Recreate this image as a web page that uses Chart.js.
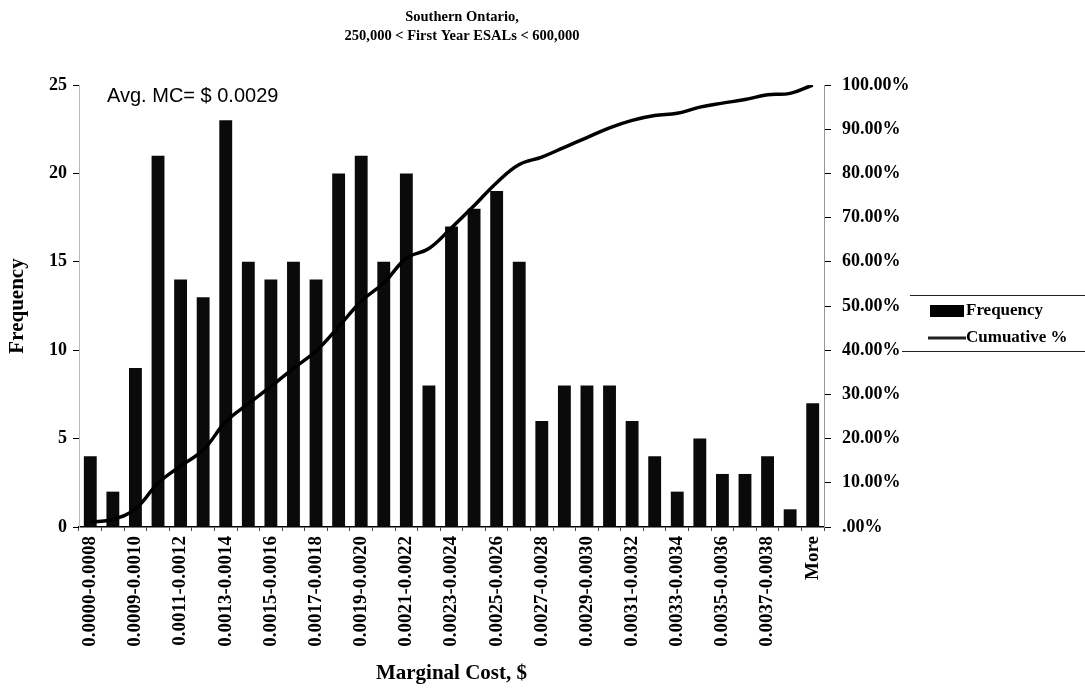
<!DOCTYPE html>
<html>
<head>
<meta charset="utf-8">
<script src="https://cdn.jsdelivr.net/npm/chart.js@4.4.0/dist/chart.umd.min.js"></script>
<style>
  html, body { margin: 0; padding: 0; background: #fff; }
  canvas { display: block; }
</style>
</head>
<body>
<canvas id="mcChart" width="1085" height="689"></canvas>
<script>
// bins (Excel histogram), only every other label is printed on the axis
var bins = [
    '0.0000-0.0008', '0.0008-0.0009', '0.0009-0.0010', '0.0010-0.0011',
    '0.0011-0.0012', '0.0012-0.0013', '0.0013-0.0014', '0.0014-0.0015',
    '0.0015-0.0016', '0.0016-0.0017', '0.0017-0.0018', '0.0018-0.0019',
    '0.0019-0.0020', '0.0020-0.0021', '0.0021-0.0022', '0.0022-0.0023',
    '0.0023-0.0024', '0.0024-0.0025', '0.0025-0.0026', '0.0026-0.0027',
    '0.0027-0.0028', '0.0028-0.0029', '0.0029-0.0030', '0.0030-0.0031',
    '0.0031-0.0032', '0.0032-0.0033', '0.0033-0.0034', '0.0034-0.0035',
    '0.0035-0.0036', '0.0036-0.0037', '0.0037-0.0038', '0.0038-0.0039',
    'More'
];
var frequency = [4, 2, 9, 21, 14, 13, 23, 15, 14, 15, 14, 20, 21, 15, 20, 8, 17,
                 18, 19, 15, 6, 8, 8, 8, 6, 4, 2, 5, 3, 3, 4, 1, 7];
var cumulative = [1.1, 1.7, 4.1, 9.9, 13.8, 17.4, 23.8, 27.9, 31.8, 35.9, 39.8,
                  45.3, 51.1, 55.2, 60.8, 63.0, 67.7, 72.7, 77.9, 82.0, 83.7,
                  85.9, 88.1, 90.3, 92.0, 93.1, 93.6, 95.0, 95.9, 96.7, 97.8,
                  98.1, 100];
var freqTicks = [0, 5, 10, 15, 20, 25];
var pctTicks = [0, 10, 20, 30, 40, 50, 60, 70, 80, 90, 100];

var serif = '"Liberation Serif", "Times New Roman", serif';

// Avg. MC note + the legend box at the right
var extras = {
    id: 'extras',
    afterDraw: function (chart) {
        var c = chart.ctx;
        var area = chart.chartArea;
        c.save();
        c.fillStyle = '#000';
        c.font = '20px "Liberation Sans", Arial, sans-serif';
        c.textBaseline = 'alphabetic';
        c.textAlign = 'left';
        c.fillText('Avg. MC= $ 0.0029', area.left + 28, area.top + 17);

        var lx = area.right + 84;
        c.strokeStyle = '#222';
        c.lineWidth = 1;
        c.beginPath();
        c.moveTo(lx + 2, 295.5); c.lineTo(1085, 295.5);
        c.moveTo(lx - 6, 351.5); c.lineTo(1085, 351.5);
        c.stroke();

        c.fillRect(lx + 22, 305, 34, 12);
        c.lineWidth = 3;
        c.beginPath();
        c.moveTo(lx + 20, 338); c.lineTo(lx + 58, 338);
        c.stroke();

        c.font = 'bold 17px ' + serif;
        c.textBaseline = 'middle';
        c.fillText('Frequency', lx + 58, 311);
        c.fillText('Cumuative %', lx + 58, 338);
        c.restore();
    }
};

var ctx = document.getElementById('mcChart').getContext('2d');
var mcChart = new Chart(ctx, {
    data: {
        labels: bins,
        datasets: [{
            type: 'line',
            label: 'Cumuative %',
            data: cumulative,
            yAxisID: 'y1',
            borderColor: '#000',
            borderWidth: 3.5,
            pointRadius: 0,
            tension: 0.4,
            fill: false,
            order: 0
        }, {
            type: 'bar',
            label: 'Frequency',
            data: frequency,
            yAxisID: 'y',
            backgroundColor: '#0a0a0a',
            borderWidth: 0,
            barPercentage: 0.57,
            categoryPercentage: 1.0,
            order: 1
        }]
    },
    plugins: [extras],
    options: {
        responsive: false,
        animation: false,
        layout: {
            padding: { left: 0, right: 161, top: 0, bottom: 0 }
        },
        scales: {
            x: {
                grid: {
                    offset: true,
                    drawOnChartArea: false,
                    drawTicks: true,
                    tickLength: 4,
                    color: '#444'
                },
                border: { display: true, color: '#000', width: 1.5 },
                ticks: {
                    autoSkip: false,
                    maxRotation: 90,
                    minRotation: 90,
                    padding: 5,
                    color: '#000',
                    font: { family: serif, size: 19, weight: 'bold' },
                    callback: function (value, index) {
                        return index % 2 === 0 ? bins[index] : '';
                    }
                },
                title: {
                    display: true,
                    text: 'Marginal Cost, $',
                    color: '#000',
                    font: { family: serif, size: 21, weight: 'bold' },
                    padding: { top: 0, bottom: 3 }
                },
                afterFit: function (scale) { scale.height = 162; }
            },
            y: {
                position: 'left',
                min: 0,
                max: 25,
                afterBuildTicks: function (scale) {
                    scale.ticks = freqTicks.map(function (v) { return { value: v }; });
                },
                grid: {
                    drawOnChartArea: false,
                    drawTicks: true,
                    tickLength: 6,
                    color: '#000'
                },
                border: { display: true, color: '#bbb', dash: [2, 4] },
                ticks: {
                    padding: 6,
                    color: '#000',
                    font: { family: serif, size: 18, weight: 'bold' }
                },
                title: {
                    display: true,
                    text: 'Frequency',
                    color: '#000',
                    font: { family: serif, size: 21, weight: 'bold' },
                    padding: { top: 5, bottom: 0 }
                },
                afterFit: function (scale) { scale.width = 79; }
            },
            y1: {
                position: 'right',
                min: 0,
                max: 100,
                afterBuildTicks: function (scale) {
                    scale.ticks = pctTicks.map(function (v) { return { value: v }; });
                },
                grid: {
                    drawOnChartArea: false,
                    drawTicks: true,
                    tickLength: 7,
                    color: '#000'
                },
                border: { display: true, color: '#999', dash: [2, 4] },
                ticks: {
                    padding: 11,
                    color: '#000',
                    font: { family: serif, size: 18, weight: 'bold' },
                    callback: function (value) {
                        return value === 0 ? '.00%' : value.toFixed(2) + '%';
                    }
                },
                afterFit: function (scale) { scale.width = 100; }
            }
        },
        plugins: {
            legend: { display: false },
            tooltip: { enabled: false },
            title: {
                display: true,
                text: ['Southern Ontario,', '250,000 < First Year ESALs < 600,000'],
                color: '#000',
                font: { family: serif, size: 14.5, weight: 'bold', lineHeight: 1.3 },
                padding: { top: 7.5, bottom: 39.8 }
            }
        }
    }
});
</script>
</body>
</html>
